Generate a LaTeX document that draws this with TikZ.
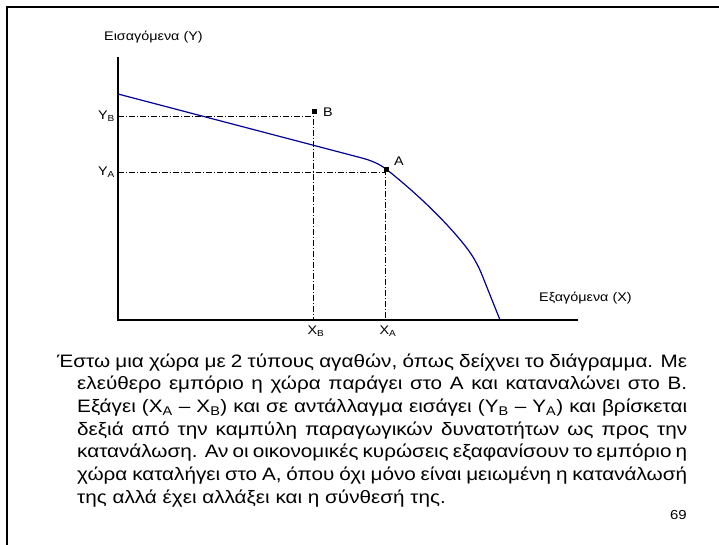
\documentclass[tikz,border=0pt]{standalone}
\usepackage{fontspec}
\setmainfont{Liberation Sans}[FakeStretch=1.15]
\definecolor{ppfblue}{RGB}{0,0,150}
\begin{document}
\begin{tikzpicture}[x=1pt,y=-1pt,
  axisline/.style={line width=1.1pt,black},
  ppf/.style={line width=1.2pt,ppfblue},
  dd/.style={line width=0.6pt,black,dash pattern=on 6pt off 2pt on 1pt off 2pt},
  marker/.style={fill=black,inner sep=0pt,minimum size=5pt,draw=none,rectangle},
  lbl/.style={inner sep=0pt,font=\fontsize{12.5}{14}\selectfont},
  axlbl/.style={inner sep=0pt,font=\fontsize{12.5}{14}\selectfont,anchor=west},
  body/.style={inner sep=0pt,anchor=base west,font=\fontsize{18}{22.7}\selectfont}]
\useasboundingbox (0,0) rectangle (719,545);
% frame
\draw[line width=2.5pt,line join=miter] (7,546) -- (7,7) -- (720,7);
% axes
\coordinate (Ytop) at (118,57);
\coordinate (O) at (118,320);
\coordinate (Xend) at (578,320);
\draw[axisline] (Ytop) -- (O) -- (Xend);
% dash-dot guides
\coordinate (YB) at (118,116);
\coordinate (cB) at (313,116);
\coordinate (XB) at (313,320);
\coordinate (YA) at (118,172);
\coordinate (cA) at (385,172);
\coordinate (XA) at (385,320);
\draw[dd] (YB) -- (cB) -- (XB);
\draw[dd] (YA) -- (cA) -- (XA);
% production possibility curve
\draw[ppf] (118,94) -- (360,157.5) .. controls (372,160.5) and (380,164.5) .. (386,169)
  .. controls (410,188) and (440,215) .. (462,242)
  .. controls (472,254) and (478,264) .. (484,280)
  -- (500,320);
% points
\node[marker] (mA) at (386,170) {};
\node[marker] (mB) at (314,112) {};
\node[lbl,anchor=west] (lA) at (394,161) {A};
\node[lbl,anchor=west] (lB) at (323,112) {B};
% axis tick labels
\node[lbl,anchor=east] (lYB) at (115,116) {Y\textsubscript{B}};
\node[lbl,anchor=east] (lYA) at (115,172) {Y\textsubscript{A}};
\node[lbl,anchor=north] (lXB) at (316,326) {X\textsubscript{B}};
\node[lbl,anchor=north] (lXA) at (388,326) {X\textsubscript{A}};
% axis titles
\node[axlbl] (ty) at (104,37) {Εισαγόμενα (Y)};
\node[axlbl] (tx) at (539,298) {Εξαγόμενα (X)};
% text
\node[body] (txt) at (57,367) {\parbox[t]{630pt}{\noindent\hangindent=20pt\hangafter=1
Έστω μια χώρα με 2 τύπους αγαθών, όπως δείχνει το διάγραμμα. Με\linebreak
ελεύθερο εμπόριο η χώρα παράγει στο Α και καταναλώνει στο Β.\linebreak
Εξάγει (X\textsubscript{A} – X\textsubscript{B}) και σε αντάλλαγμα εισάγει (Y\textsubscript{B} – Y\textsubscript{A}) και βρίσκεται\linebreak
δεξιά από την καμπύλη παραγωγικών δυνατοτήτων ως προς την\linebreak
κατανάλωση. Αν οι οικονομικές κυρώσεις εξαφανίσουν το εμπόριο η\linebreak
χώρα καταλήγει στο Α, όπου όχι μόνο είναι μειωμένη η κατανάλωσή\linebreak
της αλλά έχει αλλάξει και η σύνθεσή της.}};
\node[inner sep=0pt,anchor=base east,font=\fontsize{13}{15}\selectfont] (pg) at (687,519) {69};
\end{tikzpicture}
\end{document}
